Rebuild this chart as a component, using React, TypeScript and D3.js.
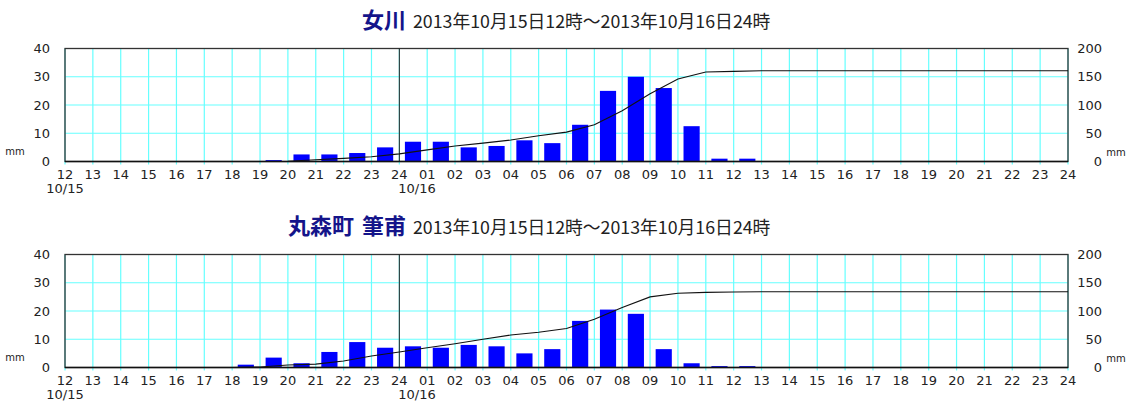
import React from "react";
import * as d3 from "d3";

const hourLabels = ["12","13","14","15","16","17","18","19","20","21","22","23","24","01","02","03","04","05","06","07","08","09","10","11","12","13","14","15","16","17","18","19","20","21","22","23","24"];
const dateLabels = [{ index: 0, label: "10/15", anchor: "middle" }, { index: 12, label: "10/16", anchor: "start" }];
const leftTicks = [0, 10, 20, 30, 40];
const rightTicks = [0, 50, 100, 150, 200];
const periodText = "2013年10月15日12時～2013年10月16日24時";

const stationNames = ["女川", "丸森町 筆甫"];
// hourly rainfall (mm), one value per hour interval 10/15 12時 → 10/16 24時
const onagawaRain = [0,0,0,0,0,0,0,0.5,2.5,2.5,3,5,7,7,5,5.5,7.5,6.5,13,25,30,26,12.5,1,1,0,0,0,0,0,0,0,0,0,0,0];
const hippoRain = [0,0,0,0,0,0,1,3.5,1.5,5.5,9,7,7.5,7,8,7.5,5,6.5,16.5,20.5,19,6.5,1.5,0.5,0.5,0,0,0,0,0,0,0,0,0,0,0];

const W = 1131, H = 401;
const left = 65, right = 1068, plotH = 113;
const tops = [48.5, 254.5];
const FONT = "'DejaVu Sans', Verdana, sans-serif";
const JP = "'Noto Sans CJK JP', sans-serif";

function Panel({ top, name, rain }: { top: number; name: string; rain: number[] }) {
  const bottom = top + plotH;
  const x = d3.scaleLinear().domain([0, hourLabels.length - 1]).range([left, right]);
  const y = d3.scaleLinear().domain([0, 40]).range([bottom, top]);
  const y2 = d3.scaleLinear().domain([0, 200]).range([bottom, top]);
  const step = x(1) - x(0);
  const cum = [0, ...Array.from(d3.cumsum(rain))];
  const line = d3.line<number>().x((_, i) => x(i)).y((d) => y2(d));
  return (
    <g>
      <text x={406} y={top - 21} textAnchor="end" fontFamily={JP} fontSize={22} fontWeight="bold" wordSpacing={3} fill="#14148a">{name}</text>
      <text x={413} y={top - 21} fontFamily={JP} fontSize={17.8} fill="#222">{periodText}</text>
      {hourLabels.map((_, i) => (
        <line key={"v" + i} x1={x(i)} x2={x(i)} y1={top} y2={bottom + 3} stroke="#66ffff" strokeWidth={1.2} />
      ))}
      {leftTicks.slice(1, -1).map((t) => (
        <line key={"h" + t} x1={left} x2={right} y1={y(t)} y2={y(t)} stroke="#66ffff" strokeWidth={1.2} />
      ))}
      {rain.map((v, i) => v > 0 ? (
        <rect key={"b" + i} x={x(i) + step * 0.2} width={step * 0.58} y={y(v)} height={bottom - y(v)} fill="#0000ff" />
      ) : null)}
      <rect x={left} y={top} width={right - left} height={plotH} fill="none" stroke="#333" strokeWidth={1.3} />
      <line x1={x(12)} x2={x(12)} y1={top} y2={bottom} stroke="#222" strokeWidth={1} />
      <path d={line(cum) || ""} fill="none" stroke="#111" strokeWidth={1.1} />
      <line x1={left} x2={right} y1={bottom} y2={bottom} stroke="#111" strokeWidth={1.3} />
      {hourLabels.map((l, i) => (
        <text key={"t" + i} x={x(i)} y={bottom + 17} textAnchor="middle" fontFamily={FONT} fontSize={13} fill="#222">{l}</text>
      ))}
      {dateLabels.map((d) => (
        <text key={d.label} x={d.anchor === "start" ? x(d.index) - 1 : x(d.index)} y={bottom + 31.5} textAnchor={d.anchor} fontFamily={FONT} fontSize={13} fill="#222">{d.label}</text>
      ))}
      {leftTicks.map((t) => (
        <text key={"l" + t} x={50} y={y(t) + 4.7} textAnchor="end" fontFamily={FONT} fontSize={13} fill="#222">{t}</text>
      ))}
      {rightTicks.map((t) => (
        <text key={"r" + t} x={1102} y={y2(t) + 4.7} textAnchor="end" fontFamily={FONT} fontSize={13} fill="#222">{t}</text>
      ))}
      <text x={15} y={bottom - 7} textAnchor="middle" fontFamily={FONT} fontSize={10} fill="#222">mm</text>
      <text x={1116} y={bottom - 6} textAnchor="middle" fontFamily={FONT} fontSize={10} fill="#222">mm</text>
    </g>
  );
}

export default function App() {
  return (
    <svg width={W} height={H} style={{ position: "absolute", left: 0, top: 0, background: "#fff" }}>
      <rect width={W} height={H} fill="#fff" />
      <Panel top={tops[0]} name={stationNames[0]} rain={onagawaRain} />
      <Panel top={tops[1]} name={stationNames[1]} rain={hippoRain} />
    </svg>
  );
}
